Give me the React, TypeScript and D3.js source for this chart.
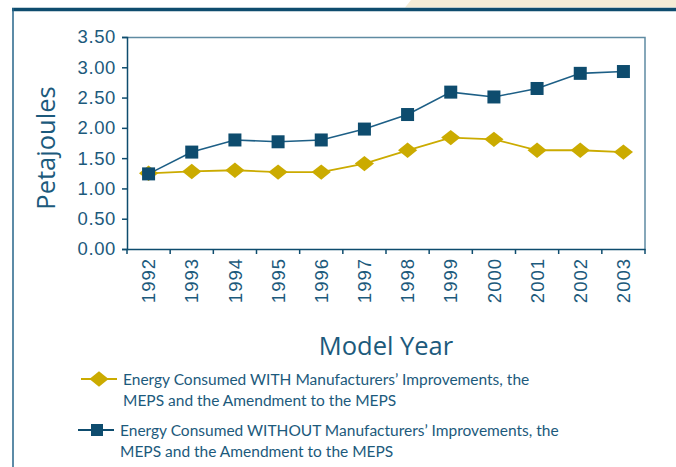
import React, { useEffect, useRef } from 'react';
import * as d3 from 'd3';

const years = ['1992', '1993', '1994', '1995', '1996', '1997', '1998', '1999', '2000', '2001', '2002', '2003'];
const withImprovements = [1.25, 1.28, 1.30, 1.27, 1.27, 1.41, 1.63, 1.84, 1.81, 1.63, 1.63, 1.60];
const withoutImprovements = [1.24, 1.60, 1.80, 1.77, 1.80, 1.98, 2.22, 2.59, 2.51, 2.65, 2.90, 2.93];
const yTicks = [0, 0.5, 1, 1.5, 2, 2.5, 3, 3.5];
const legendWith = ['Energy Consumed WITH Manufacturers\u2019 Improvements, the', 'MEPS and the Amendment to the MEPS'];
const legendWithout = ['Energy Consumed WITHOUT Manufacturers\u2019 Improvements, the', 'MEPS and the Amendment to the MEPS'];

const NAVY = '#0e4c6e';
const TEXT = '#1c5a7c';
const GOLD = '#cbab00';

const App = () => {
  const svgRef = useRef<SVGSVGElement>(null);

  useEffect(() => {
    const width = 676;
    const height = 467;
    const margin = { top: 37, right: 31, bottom: 218, left: 127 };
    const innerW = width - margin.left - margin.right;
    const innerH = height - margin.top - margin.bottom;

    const root = d3.select(svgRef.current).attr('width', width).attr('height', height);
    root.selectAll('*').remove();

    // page decoration
    root.append('polygon').attr('points', '405,7.5 411,0 676,0 676,7.5').attr('fill', '#f5ecd6');
    root.append('line').attr('x1', 12).attr('x2', 676).attr('y1', 9.5).attr('y2', 9.5)
      .attr('stroke', NAVY).attr('stroke-width', 3.5);
    root.append('line').attr('x1', 13).attr('x2', 13).attr('y1', 8).attr('y2', 467)
      .attr('stroke', '#26658a').attr('stroke-width', 1.5);

    const svg = root.append('g').attr('transform', `translate(${margin.left},${margin.top})`);

    const x = d3.scaleBand().domain(years).range([0, innerW]);
    const y = d3.scaleLinear().domain([0, 3.5]).range([innerH, 0]);

    // frame top/right
    svg.append('path').attr('d', `M0,0.5H${innerW}V${innerH}`)
      .attr('fill', 'none').attr('stroke', '#5f8ba2').attr('stroke-width', 1.5);

    const yAxis = svg.append('g')
      .call(d3.axisLeft(y).tickValues(yTicks).tickFormat(d3.format('.2f')).tickSize(5).tickPadding(6));
    yAxis.selectAll('text')
      .attr('fill', TEXT).attr('font-size', 18.5).attr('letter-spacing', 0.6)
      .attr('font-family', '"Liberation Sans", Arial, sans-serif');

    const xAxis = svg.append('g').attr('transform', `translate(0,${innerH})`)
      .call(d3.axisBottom(x).tickSize(0).tickPadding(0));
    xAxis.selectAll('text')
      .attr('fill', TEXT).attr('font-size', 18.5).attr('letter-spacing', 1)
      .attr('font-family', '"Liberation Sans", Arial, sans-serif')
      .attr('text-anchor', 'end')
      .attr('dy', '0.36em')
      .attr('transform', 'translate(0,9) rotate(-90)');
    // tick marks at category boundaries
    const bounds = years.map(d => x(d) as number).concat([innerW]);
    xAxis.selectAll('.bound').data(bounds).enter().append('line')
      .attr('x1', d => d).attr('x2', d => d).attr('y1', 0).attr('y2', 5)
      .attr('stroke', NAVY).attr('stroke-width', 1.5);

    svg.selectAll('.domain, .tick line').attr('stroke', NAVY).attr('stroke-width', 1.5);

    const cx = (d: string) => (x(d) as number) + x.bandwidth() / 2;
    const line = d3.line<number>().x((d, i) => cx(years[i])).y(d => y(d));

    svg.append('path').datum(withoutImprovements).attr('d', line)
      .attr('fill', 'none').attr('stroke', '#1d5f86').attr('stroke-width', 1.6);
    svg.append('path').datum(withImprovements).attr('d', line)
      .attr('fill', 'none').attr('stroke', GOLD).attr('stroke-width', 1.8);

    const diamond = d3.symbol().type(d3.symbolDiamond2).size(150);
    svg.selectAll('.dia').data(withImprovements).enter().append('path')
      .attr('d', diamond)
      .attr('transform', (d, i) => `translate(${cx(years[i])},${y(d)}) scale(1.25,1)`)
      .attr('fill', GOLD);

    svg.selectAll('.sq').data(withoutImprovements).enter().append('rect')
      .attr('x', (d, i) => cx(years[i]) - 6.5).attr('y', d => y(d) - 6.5)
      .attr('width', 13).attr('height', 13).attr('fill', NAVY);

    // axis titles
    root.append('text').attr('transform', 'translate(55,148) rotate(-90)')
      .attr('text-anchor', 'middle').attr('fill', TEXT).attr('font-size', 25.5)
      .attr('font-family', '"Open Sans", sans-serif').text('Petajoules');
    root.append('text').attr('x', 386).attr('y', 355)
      .attr('text-anchor', 'middle').attr('fill', TEXT).attr('font-size', 25.5)
      .attr('font-family', '"Open Sans", sans-serif').text('Model Year');

    // legend
    const legend = root.append('g').attr('font-family', 'Lato, sans-serif')
      .attr('font-size', 15.5).attr('fill', TEXT);
    legend.append('line').attr('x1', 81).attr('x2', 117).attr('y1', 379).attr('y2', 379)
      .attr('stroke', GOLD).attr('stroke-width', 2);
    legend.append('path').attr('d', diamond)
      .attr('transform', 'translate(99,379) scale(1.25,1)').attr('fill', GOLD);
    legend.append('text').attr('x', 123).attr('y', 385)
      .selectAll('tspan').data(legendWith).enter().append('tspan')
      .attr('x', 123).attr('dy', (d, i) => (i === 0 ? 0 : 20.5)).text(d => d);

    legend.append('line').attr('x1', 78).attr('x2', 114).attr('y1', 430).attr('y2', 430)
      .attr('stroke', NAVY).attr('stroke-width', 2);
    legend.append('rect').attr('x', 91).attr('y', 424).attr('width', 12).attr('height', 12).attr('fill', NAVY);
    legend.append('text').attr('x', 120).attr('y', 436)
      .selectAll('tspan').data(legendWithout).enter().append('tspan')
      .attr('x', 120).attr('dy', (d, i) => (i === 0 ? 0 : 20.5)).text(d => d);

    return () => {
      d3.select(svgRef.current).selectAll('*').remove();
    };
  }, []);

  return (
    <svg ref={svgRef} style={{ position: 'absolute', left: 0, top: 0, background: '#fff' }}></svg>
  );
};

export default App;
